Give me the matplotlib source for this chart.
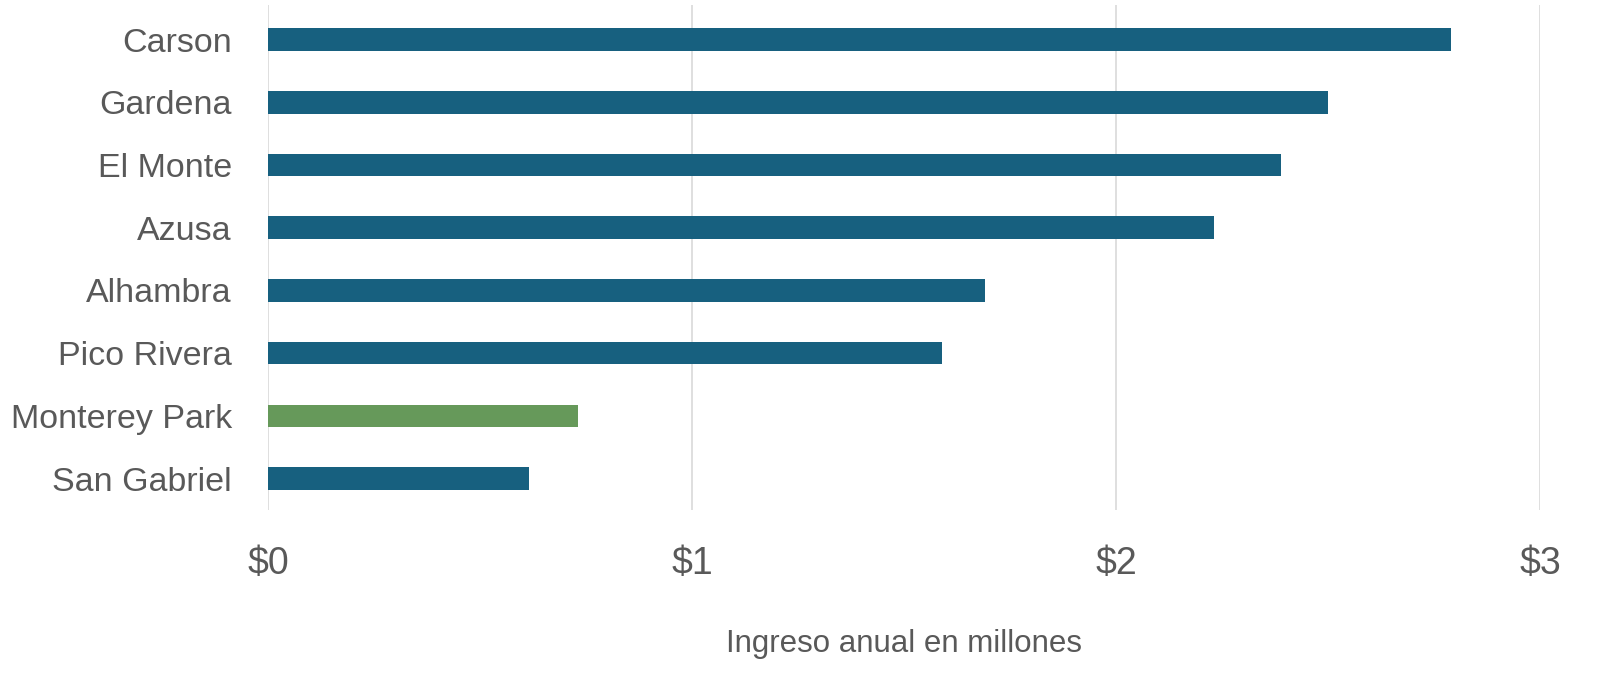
import matplotlib.pyplot as plt

cities = ['Carson', 'Gardena', 'El Monte', 'Azusa', 'Alhambra', 'Pico Rivera',
          'Monterey Park', 'San Gabriel']
revenue = [2.79, 2.50, 2.39, 2.23, 1.69, 1.59, 0.73, 0.615]
highlight = 'Monterey Park'
xticks = [0, 1, 2, 3]
xtick_labels = ['$0', '$1', '$2', '$3']

blue = '#17607F'
green = '#66995A'
grey_text = '#595959'

plt.rcParams['font.family'] = ['Liberation Sans', 'DejaVu Sans']

fig = plt.figure(figsize=(16.13, 6.79), dpi=100)
ax = fig.add_axes([268 / 1613, 1 - 510 / 679, (1540 - 268) / 1613, 505 / 679])

colors = [green if c == highlight else blue for c in cities]
ypos = list(range(len(cities)))
ax.barh(ypos, revenue, height=0.36, color=colors, zorder=3)
ax.set_yticks(ypos)
ax.set_yticklabels(cities)
ax.set_ylim(len(cities) - 0.5, -0.55)
ax.set_xlim(0, 3)
ax.set_xticks(xticks)
ax.set_xticklabels(xtick_labels)

ax.grid(axis='x', color='#D9D9D9', linewidth=1.2, zorder=0)
for s in ax.spines.values():
    s.set_visible(False)
ax.tick_params(axis='y', length=0, labelsize=24.5, colors=grey_text, pad=26)
ax.tick_params(axis='x', length=0, labelsize=27, colors=grey_text, pad=26)
ax.set_xlabel('Ingreso anual en millones', fontsize=22.5, color=grey_text, labelpad=34)

fig.savefig('out.png', dpi=100)
